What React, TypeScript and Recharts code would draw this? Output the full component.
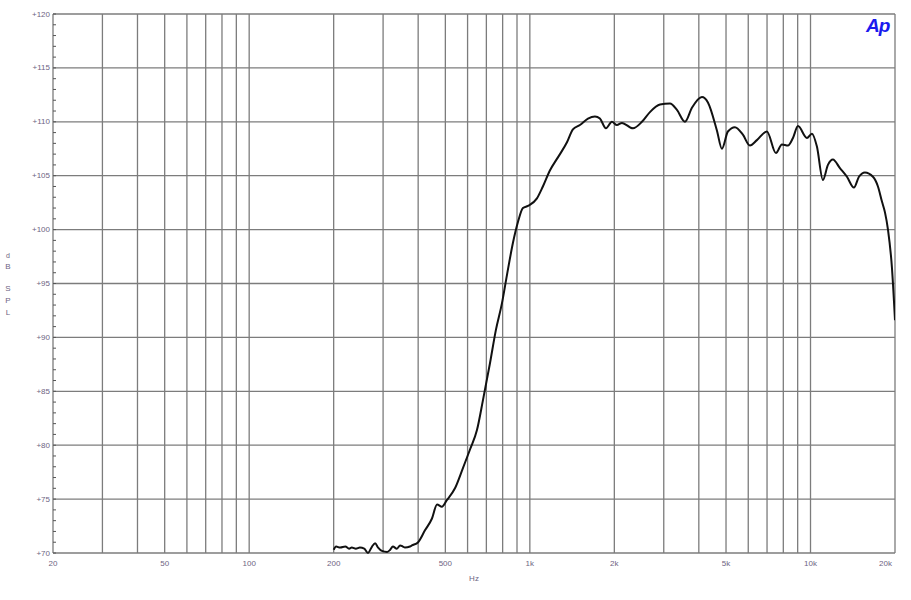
import { Line, LineChart, ReferenceLine, XAxis, YAxis } from 'recharts'

// frequency (Hz)
const freqs = [
  200, 204, 211, 220, 227, 232, 240, 248, 257, 265, 274, 281, 288, 297, 310, 318, 325, 336, 345,
  353, 359, 374, 380, 400, 423, 448, 467, 486, 506,
  541, 578, 612, 648, 681, 721, 757, 796, 829, 871, 907, 945, 985, 1060, 1113, 1180, 1259, 1356,
  1424, 1508, 1611, 1706, 1777, 1867, 1961, 2043, 2129, 2330, 2508, 2678, 2908, 3157, 3343, 3569,
  3780, 4103, 4310, 4640, 4834, 5078, 5379, 5742, 6083, 6442, 6993, 7529, 7910, 8311, 8659, 9023,
  9708, 10116, 10540, 11070, 11536, 12018, 12730, 13484, 14280, 14877, 15628, 16690, 17390, 17970,
  18420, 18880, 19500, 20000,
]

// dB SPL
const spl = [
  70.3, 70.6, 70.5, 70.6, 70.4, 70.5, 70.4, 70.5, 70.4, 70.0, 70.6, 70.9, 70.5, 70.2, 70.1, 70.3,
  70.6, 70.4, 70.7, 70.6, 70.5, 70.6, 70.7, 71.0, 72.1, 73.2,
  74.5, 74.3, 74.9, 76.0, 77.9, 79.6, 81.4, 84.2, 87.6, 90.7, 93.2, 95.8, 98.8, 100.7, 102.0, 102.2,
  102.9, 104.0, 105.5, 106.7, 108.1, 109.3, 109.7, 110.3, 110.5, 110.3, 109.4, 110.0, 109.7, 109.9,
  109.4, 110.0, 110.9, 111.6, 111.7, 111.1, 110.0, 111.3, 112.3, 111.8, 109.2, 107.5, 109.1, 109.5,
  108.8, 107.8, 108.3, 109.1, 107.1, 107.9, 107.8, 108.5, 109.6, 108.5, 108.9, 107.7, 104.6, 106.0,
  106.5, 105.7, 104.9, 103.9, 104.9, 105.3, 104.9, 104.0, 102.6, 101.6, 100.0, 96.5, 91.6,
]

const xTicks = [20, 50, 100, 200, 500, 1000, 2000, 5000, 10000, 20000]
const xGrid = [
  20, 30, 40, 50, 60, 70, 80, 90, 100, 200, 300, 400, 500, 600, 700, 800, 900, 1000, 2000, 3000,
  4000, 5000, 6000, 7000, 8000, 9000, 10000, 20000,
]
const yMajor = [70, 75, 80, 85, 90, 95, 100, 105, 110, 115, 120]
const yMinor = Array.from({ length: 51 }, (_, i) => 70 + i)

const data = freqs.map((f, i) => ({ f, spl: spl[i] }))

const labelColor = '#6e6482'
const gridColor = '#7c7c7c'
const font = '"Liberation Sans", Arial, sans-serif'

const fmtHz = (v: number) => (v >= 1000 ? `${v / 1000}k` : `${v}`)

function YTick(props: any) {
  const { x, y, payload } = props
  const v = payload.value
  return (
    <g>
      <line x1={x} x2={x + 3} y1={y} y2={y} stroke="#555" strokeWidth={1} />
      {v % 5 === 0 && (
        <text x={x - 3} y={y} textAnchor="end" dominantBaseline="central" fontSize={8} fill={labelColor} fontFamily={font}>
          {`+${v}`}
        </text>
      )}
    </g>
  )
}

function XTick(props: any) {
  const { x, y, payload } = props
  const last = payload.value === 20000
  return (
    <text x={last ? x + 1 : x} y={y + 10} textAnchor={last ? 'end' : 'middle'} dominantBaseline="central" fontSize={8} fill={labelColor} fontFamily={font}>
      {fmtHz(payload.value)}
    </text>
  )
}

export default function App() {
  return (
    <div style={{ position: 'absolute', left: 0, top: 0, width: 911, height: 600, background: '#fff' }}>
      <LineChart width={911} height={600} data={data} margin={{ top: 14, right: 16, bottom: 17, left: 0 }}>
        <XAxis
          dataKey="f"
          type="number"
          scale="log"
          domain={[20, 20000]}
          ticks={xTicks}
          allowDataOverflow
          axisLine={false}
          tickLine={false}
          tickSize={0}
          tickMargin={0}
          height={30}
          tick={<XTick />}
          label={{
            content: (p: any) => (
              <text x={p.viewBox.x + p.viewBox.width / 2} y={p.viewBox.y + 25} textAnchor="middle" dominantBaseline="central" fontSize={8} fill={labelColor} fontFamily={font}>
                Hz
              </text>
            ),
          }}
        />
        <YAxis
          type="number"
          domain={[70, 120]}
          ticks={yMinor}
          interval={0}
          axisLine={false}
          tickLine={false}
          tickSize={0}
          tickMargin={0}
          width={53}
          tick={<YTick />}
          label={{
            content: (p: any) => {
              const cy = p.viewBox.y + p.viewBox.height / 2
              const letters = [['d', -28], ['B', -17], ['S', 5], ['P', 17], ['L', 29]] as const
              return (
                <g>
                  {letters.map(([c, dy]) => (
                    <text key={c} x={8} y={cy + dy} textAnchor="middle" dominantBaseline="central" fontSize={c === 'd' ? 7 : 8} fill={labelColor} fontFamily={font}>
                      {c}
                    </text>
                  ))}
                </g>
              )
            },
          }}
        />
        {yMajor.map((v) => (
          <ReferenceLine key={`h${v}`} y={v} stroke={gridColor} strokeWidth={1.3} />
        ))}
        {xGrid.map((v) => (
          <ReferenceLine key={`v${v}`} x={v} stroke={gridColor} strokeWidth={1.3} />
        ))}
        <Line
          dataKey="spl"
          type="monotone"
          stroke="#111"
          strokeWidth={2}
          dot={false}
          isAnimationActive={false}
        />
      </LineChart>
      <div
        style={{
          position: 'absolute',
          left: 866,
          top: 15,
          fontFamily: font,
          fontWeight: 'bold',
          fontStyle: 'italic',
          fontSize: 19,
          color: '#1a1aee',
          letterSpacing: -1,
        }}
      >
        Ap
      </div>
    </div>
  )
}
